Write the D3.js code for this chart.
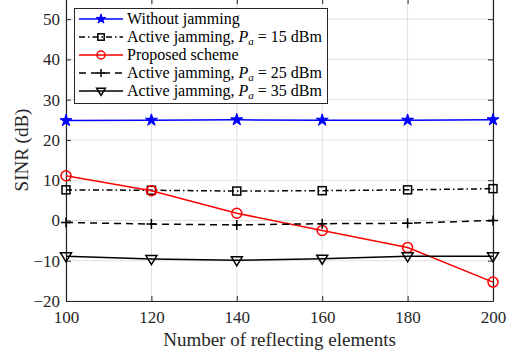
<!DOCTYPE html>
<html>
<head>
<meta charset="utf-8">
<script src="https://cdn.jsdelivr.net/npm/d3@7"></script>
<style>
  body { margin: 0; background: #fff; }
  svg { display: block; }
  text { font-family: 'Liberation Serif', 'Times New Roman', Times, serif !important; }
</style>
</head>
<body>
<svg width="516" height="360"></svg>
<script>
const elements = [100, 120, 140, 160, 180, 200]
const xTicks = [100, 120, 140, 160, 180, 200]
const yTicks = [-20, -10, 0, 10, 20, 30, 40, 50]

const withoutJamming = [24.8, 24.9, 25.0, 24.9, 24.9, 25.0]
const active15 = [7.6, 7.5, 7.3, 7.4, 7.6, 7.9]
const proposed = [11.1, 7.4, 1.8, -2.5, -6.7, -15.3]
const active25 = [-0.5, -0.9, -1.1, -0.8, -0.7, 0.0]
const active35 = [-8.9, -9.6, -9.9, -9.5, -8.9, -8.9]

const series = [
    { name: 'Without jamming', values: withoutJamming, color: '#0000ff', dash: null, marker: 'star' },
    { name: 'Active jamming, ', pa: '15', values: active15, color: '#000', dash: '6,3,1.5,3', marker: 'square' },
    { name: 'Proposed scheme', values: proposed, color: '#ff0000', dash: null, marker: 'circle' },
    { name: 'Active jamming, ', pa: '25', values: active25, color: '#000', dash: '7,5', marker: 'plus' },
    { name: 'Active jamming, ', pa: '35', values: active35, color: '#000', dash: null, marker: 'triangle' },
]

const svg = d3.select('svg')
const mLeft = 66, mRight = 493, mTop = -1, mBottom = 301
const axisColor = '#262626'

const x = d3.scaleLinear().domain([100, 200]).range([mLeft, mRight])
const y = d3.scaleLinear().domain([-20, 55]).range([mBottom, mTop])

// grid
const grid = svg.append('g').attr('class', 'grid')
grid.selectAll('line.vx').data(xTicks).join('line')
    .attr('x1', d => x(d)).attr('x2', d => x(d))
    .attr('y1', mTop).attr('y2', mBottom)
    .attr('stroke', '#e0e0e0').attr('stroke-width', 1)
grid.selectAll('line.hy').data(yTicks).join('line')
    .attr('x1', mLeft).attr('x2', mRight)
    .attr('y1', d => y(d)).attr('y2', d => y(d))
    .attr('stroke', '#e0e0e0').attr('stroke-width', 1)

// axes
const xAxis = d3.axisBottom(x).tickValues(xTicks).tickSizeInner(-5).tickSizeOuter(0).tickPadding(10)
const yAxis = d3.axisLeft(y).tickValues(yTicks).tickSizeInner(-5).tickSizeOuter(0).tickPadding(6)

svg.append('g').attr('transform', `translate(0, ${mBottom})`).call(xAxis)
svg.append('g').attr('transform', `translate(${mLeft}, 0)`).call(yAxis)
svg.append('g').attr('transform', `translate(${mRight}, 0)`)
    .call(d3.axisRight(y).tickValues(yTicks).tickSizeInner(-5).tickSizeOuter(0).tickFormat(''))
svg.append('g').attr('transform', `translate(0, ${mTop})`)
    .call(d3.axisTop(x).tickValues(xTicks).tickSizeInner(-5).tickSizeOuter(0).tickFormat(''))

svg.selectAll('.domain').attr('stroke', axisColor).attr('stroke-width', 1.2)
svg.selectAll('.tick line').attr('stroke', axisColor)
svg.selectAll('.tick text')
    .attr('fill', axisColor)
    .attr('font-size', 17)

svg.append('text')
    .attr('x', (mLeft + mRight) / 2).attr('y', 346)
    .attr('text-anchor', 'middle')
    .attr('fill', axisColor)
    .attr('font-size', 19)
    .text('Number of reflecting elements')

svg.append('text')
    .attr('transform', `translate(28, ${(y(-20) + y(55)) / 2}) rotate(-90)`)
    .attr('text-anchor', 'middle')
    .attr('fill', axisColor)
    .attr('font-size', 19)
    .text('SINR (dB)')

// markers
const star = d3.symbol().type(d3.symbolStar)
const drawMarker = (g, type, color, k = 1) => {
    if (type === 'star') {
        g.append('path').attr('d', star.size(45 * k * k)()).attr('fill', color).attr('stroke', color).attr('stroke-width', 1)
    } else if (type === 'square') {
        g.append('rect').attr('x', -4 * k).attr('y', -4 * k).attr('width', 8 * k).attr('height', 8 * k)
            .attr('fill', 'none').attr('stroke', color).attr('stroke-width', 1.5)
    } else if (type === 'circle') {
        g.append('circle').attr('r', 5 * k).attr('fill', 'none').attr('stroke', color).attr('stroke-width', 1.5)
    } else if (type === 'plus') {
        g.append('path').attr('d', `M${-5 * k},0H${5 * k}M0,${-5 * k}V${5 * k}`).attr('stroke', color).attr('stroke-width', 1.5)
    } else if (type === 'triangle') {
        g.append('path').attr('d', `M${-5.5 * k},${-3.5 * k}H${5.5 * k}L0,${5.5 * k}Z`)
            .attr('fill', 'none').attr('stroke', color).attr('stroke-width', 1.5)
    }
}

const line = d3.line().x((d, i) => x(elements[i])).y(d => y(d))
const data = svg.append('g').attr('class', 'data')

series.forEach(s => {
    data.append('path')
        .datum(s.values)
        .attr('d', line)
        .attr('fill', 'none')
        .attr('stroke', s.color)
        .attr('stroke-width', 1.5)
        .attr('stroke-dasharray', s.dash)
    data.selectAll(null).data(s.values).join('g')
        .attr('transform', (d, i) => `translate(${x(elements[i])}, ${y(d)})`)
        .each(function () { drawMarker(d3.select(this), s.marker, s.color) })
})

// legend
const legend = svg.append('g').attr('class', 'legend')
legend.append('rect')
    .attr('x', 74.5).attr('y', 8.5).attr('width', 253).attr('height', 95)
    .attr('fill', '#fff').attr('stroke', axisColor).attr('stroke-width', 1)

const items = legend.selectAll('g.legend-item').data(series).join('g')
    .attr('class', 'legend-item')
    .attr('transform', (d, i) => `translate(0, ${19 + i * 18})`)

items.append('line')
    .attr('x1', 79).attr('x2', 123).attr('y1', 0).attr('y2', 0)
    .attr('stroke', d => d.color).attr('stroke-width', 1.5)
    .attr('stroke-dasharray', d => d.dash)
items.append('g').attr('transform', 'translate(101, 0)')
    .each(function (d) { drawMarker(d3.select(this), d.marker, d.color, 0.8) })

const labels = items.append('text')
    .attr('x', 127).attr('y', 5)
    .attr('fill', '#000')
    .attr('font-size', 16)
labels.append('tspan').text(d => d.name)
labels.filter(d => d.pa).each(function (d) {
    const t = d3.select(this)
    t.append('tspan').attr('font-style', 'italic').text('P')
    t.append('tspan').attr('font-style', 'italic').attr('font-size', 11).attr('dy', 3).text('a')
    t.append('tspan').attr('dy', -3).text(` = ${d.pa} dBm`)
})
</script>
</body>
</html>
